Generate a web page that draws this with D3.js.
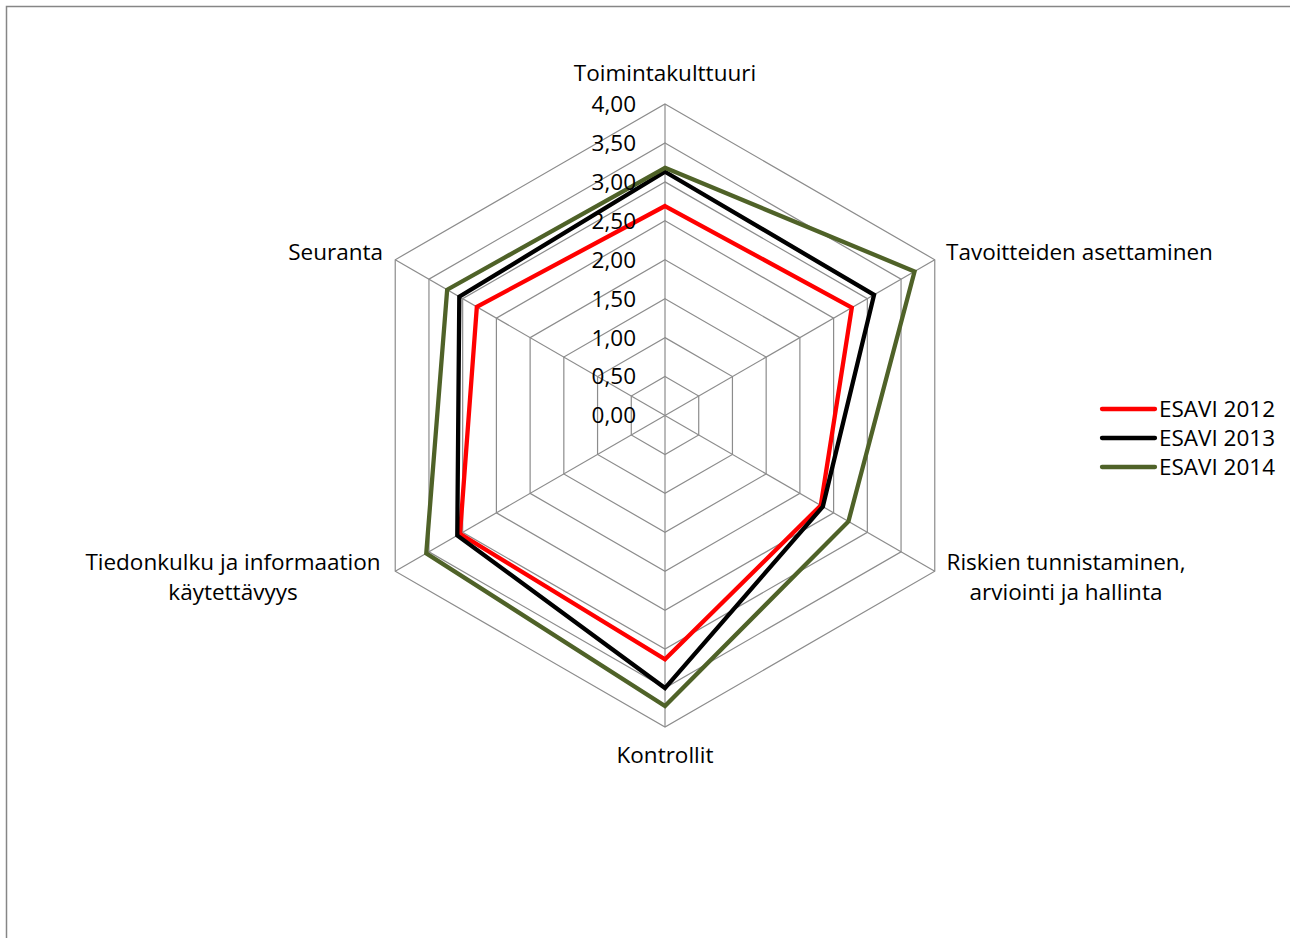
<!DOCTYPE html>
<html>
<head>
<meta charset="utf-8">
<script src="https://cdn.jsdelivr.net/npm/d3@7/dist/d3.min.js"></script>
<style>
  body { margin: 0; background: #fff; }
  svg text { font-family: "Open Sans", sans-serif; fill: #000; }
</style>
</head>
<body>
<div id="chart"></div>
<script>
var categories = ["Toimintakulttuuri", "Tavoitteiden asettaminen", "Riskien tunnistaminen,|arviointi ja hallinta",
    "Kontrollit", "Tiedonkulku ja informaation|käytettävyys", "Seuranta"];
var seriesNames = ["ESAVI 2012", "ESAVI 2013", "ESAVI 2014"];
var esavi2012 = [2.69, 2.77, 2.31, 3.13, 3.04, 2.79];
var esavi2013 = [3.13, 3.10, 2.34, 3.50, 3.08, 3.05];
var esavi2014 = [3.18, 3.70, 2.72, 3.73, 3.54, 3.23];
var tickValues = [0, 0.5, 1, 1.5, 2, 2.5, 3, 3.5, 4];
var colors = ["#ff0000", "#000000", "#4f6228"];

var width = 1290, height = 938;
var cx = 665, cy = 415.5, R = 311.5;
var fontSize = "22.5px";

var svg = d3.select("#chart").append("svg")
    .attr("width", width)
    .attr("height", height)
    .style("display", "block");

// chart area border (only top and left visible)
svg.append("rect")
    .attr("x", 6.5).attr("y", 6.5)
    .attr("width", 1400).attr("height", 1100)
    .attr("fill", "none")
    .attr("stroke", "#868686")
    .attr("stroke-width", 1.5);

var r = d3.scaleLinear().domain([0, 4]).range([0, R]);
var angle = d3.scaleLinear().domain([0, categories.length]).range([0, 2 * Math.PI]);

function pt(i, v) {
    var a = angle(i);
    return [cx + r(v) * Math.sin(a), cy - r(v) * Math.cos(a)];
}

var g = svg.append("g");

// grid rings
g.selectAll(".ring")
    .data(tickValues.slice(1))
    .enter().append("polygon")
    .attr("points", function(t) {
        return categories.map(function(c, i) { return pt(i, t).join(","); }).join(" ");
    })
    .attr("fill", "none")
    .attr("stroke", "#8c8c8c")
    .attr("stroke-width", 1.2);

// spokes
g.selectAll(".spoke")
    .data(categories)
    .enter().append("line")
    .attr("x1", cx).attr("y1", cy)
    .attr("x2", function(d, i) { return pt(i, 4)[0]; })
    .attr("y2", function(d, i) { return pt(i, 4)[1]; })
    .attr("stroke", "#8c8c8c")
    .attr("stroke-width", 1.2);

// series
var line = d3.line().curve(d3.curveLinearClosed);
[esavi2012, esavi2013, esavi2014].forEach(function(vals, s) {
    g.append("path")
        .attr("d", line(vals.map(function(v, i) { return pt(i, v); })))
        .attr("fill", "none")
        .attr("stroke", colors[s])
        .attr("stroke-width", 4.3)
        .attr("stroke-linejoin", "miter");
});

// tick labels
var fmt = function(v) { return d3.format(".2f")(v).replace(".", ","); };
g.selectAll(".tick")
    .data(tickValues)
    .enter().append("text")
    .attr("x", cx - 29)
    .attr("y", function(t) { return cy - r(t); })
    .attr("dy", "0.35em")
    .attr("text-anchor", "end")
    .style("font-size", fontSize)
    .text(fmt);

// category labels
var labelPos = [
    { x: cx, y: 73, anchor: "middle" },
    { x: 946, y: 252, anchor: "start" },
    { x: 1066, y: 562, anchor: "middle" },
    { x: cx, y: 755, anchor: "middle" },
    { x: 233, y: 562, anchor: "middle" },
    { x: 383, y: 252, anchor: "end" }
];
categories.forEach(function(c, i) {
    var p = labelPos[i];
    var t = g.append("text")
        .attr("x", p.x).attr("y", p.y)
        .attr("text-anchor", p.anchor)
        .style("font-size", fontSize);
    c.split("|").forEach(function(part, k) {
        t.append("tspan")
            .attr("x", p.x)
            .attr("dy", k === 0 ? "0.35em" : "30px")
            .text(part);
    });
});

// legend
var legend = svg.append("g");
seriesNames.forEach(function(name, s) {
    var y = 409 + s * 29;
    legend.append("line")
        .attr("x1", 1102).attr("x2", 1155)
        .attr("y1", y).attr("y2", y)
        .attr("stroke", colors[s])
        .attr("stroke-width", 4.3)
        .attr("stroke-linecap", "round");
    legend.append("text")
        .attr("x", 1159).attr("y", y)
        .attr("dy", "0.35em")
        .style("font-size", fontSize)
        .text(name);
});
</script>
</body>
</html>
